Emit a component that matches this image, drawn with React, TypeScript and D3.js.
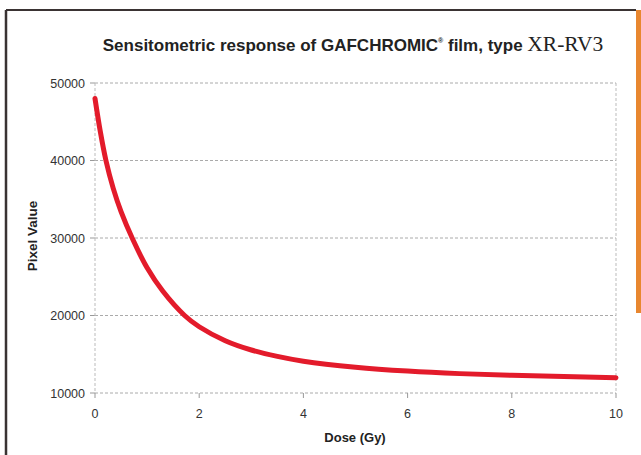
import React from "react";
import * as d3 from "d3";

const doses = [0, 0.1, 0.21, 0.35, 0.5, 0.72, 1, 1.3, 1.72, 2, 2.5, 3, 3.5, 4, 5, 6, 7, 8, 9, 10];
const pixelValues = [48000, 43800, 40000, 36400, 33400, 29900, 26150, 23150, 20000, 18550, 16750, 15550, 14720, 14100, 13330, 12830, 12500, 12290, 12120, 11970];
const xTicks = [0, 2, 4, 6, 8, 10];
const yTicks = [10000, 20000, 30000, 40000, 50000];

export default function App() {
  const W = 641, H = 455;
  const x = d3.scaleLinear().domain([0, 10]).range([95, 616]);
  const y = d3.scaleLinear().domain([10000, 50000]).range([393, 83]);
  const line = d3
    .line<number>()
    .x((_, i) => x(doses[i]))
    .y((d) => y(d))
    .curve(d3.curveCatmullRom.alpha(0.5));
  const font = "'Liberation Sans', Arial, sans-serif";
  return (
    <div style={{ position: "fixed", left: 0, top: 0 }}>
      <svg width={W} height={H} style={{ display: "block", background: "#fff" }}>
        {/* frame */}
        <line x1={6} y1={10} x2={636} y2={10} stroke="#3a3333" strokeWidth={2} />
        <line x1={6} y1={10} x2={6} y2={H} stroke="#3a3333" strokeWidth={2.5} />
        <rect x={636} y={10} width={5} height={303} fill="#E8872F" />

        {/* title */}
        <text x={353} y={51} textAnchor="middle" fontFamily={font} fontSize={17} fontWeight="bold" fill="#222">
          Sensitometric response of GAFCHROMIC
          <tspan fontSize={7} dy={-8}>®</tspan>
          <tspan dy={8}> film, type </tspan>
          <tspan fontFamily="'Liberation Serif', 'Times New Roman', serif" fontWeight="normal" fontSize={21.5}>XR-RV3</tspan>
        </text>

        {/* grid */}
        {yTicks.map((t) => (
          <g key={t}>
            <line x1={95} x2={616} y1={y(t)} y2={y(t)} stroke="#aaa" strokeWidth={1} strokeDasharray="3,2" />
            <line x1={90} x2={95} y1={y(t)} y2={y(t)} stroke="#999" strokeWidth={1} />
            <text x={85} y={y(t) + 4.5} textAnchor="end" fontFamily={font} fontSize={12.5} fill="#333">
              {t}
            </text>
          </g>
        ))}
        <line x1={95} x2={95} y1={83} y2={393} stroke="#bbb" strokeWidth={1} strokeDasharray="3,2" />
        <line x1={616} x2={616} y1={83} y2={393} stroke="#bbb" strokeWidth={1} strokeDasharray="3,2" />
        {xTicks.map((t) => (
          <g key={t}>
            <line x1={x(t)} x2={x(t)} y1={393} y2={398} stroke="#999" strokeWidth={1} />
            <text x={x(t)} y={418} textAnchor="middle" fontFamily={font} fontSize={12.5} fill="#333">
              {t}
            </text>
          </g>
        ))}

        {/* axis titles */}
        <text x={355} y={442} textAnchor="middle" fontFamily={font} fontSize={13} fontWeight="bold" fill="#222">
          Dose (Gy)
        </text>
        <text
          transform={`translate(37,236) rotate(-90)`}
          textAnchor="middle"
          fontFamily={font}
          fontSize={13.5}
          fontWeight="bold"
          fill="#222"
        >
          Pixel Value
        </text>

        {/* curve */}
        <path d={line(pixelValues) || ""} fill="none" stroke="#E31B2B" strokeWidth={5} strokeLinecap="round" />
      </svg>
    </div>
  );
}
